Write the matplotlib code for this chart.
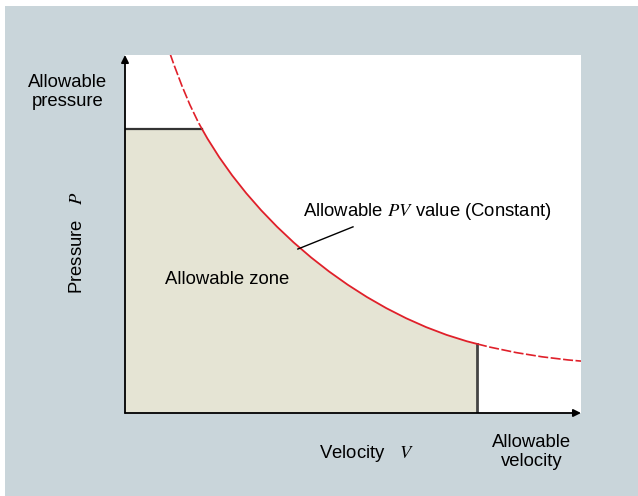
import matplotlib
matplotlib.use("Agg")
import matplotlib.pyplot as plt
from matplotlib.patches import Rectangle, PathPatch
from matplotlib.path import Path

plt.rcParams["font.family"] = ["Liberation Sans", "DejaVu Sans"]
plt.rcParams["mathtext.fontset"] = "stix"

# PV curve as three cubic Bezier pieces (end, ctrl, ctrl, end ...), read off the
# picture; axes run 0..10 on both V and P
curve_v = [0.99, 1.22, 1.45, 1.69, 2.93, 5.34, 7.72, 8.48, 9.24, 10.0]
curve_p = [10.03, 9.19, 8.47, 7.93, 5.09, 2.68, 1.93, 1.68, 1.53, 1.45]
allow_p = 7.93          # allowable pressure
allow_v = 7.72          # allowable velocity
label_pt = (3.79, 4.58)  # where the leader line meets the curve
label_end = (5.0, 5.2)

BG = "#c9d5da"
FILL = "#e5e4d4"
RED = "#e0202a"

W, H = 638, 496
fig = plt.figure(figsize=(W / 100, H / 100), dpi=100, facecolor="white")
fig.patches.append(Rectangle((5 / W, 0), 1, 1 - 6 / H, transform=fig.transFigure,
                             facecolor=BG, edgecolor="none", zorder=-10))

ax = fig.add_axes([125 / W, 1 - 413 / H, 456 / W, 358 / H])
ax.set_facecolor("white")
ax.set_xlim(0, 10)
ax.set_ylim(0, 10)
for s in ax.spines.values():
    s.set_visible(False)
ax.set_xticks([])
ax.set_yticks([])

pts = list(zip(curve_v, curve_p))
C4 = [Path.CURVE4] * 3


def bezier(i, **kw):
    path = Path(pts[i:i + 4], [Path.MOVETO] + C4)
    ax.add_patch(PathPatch(path, facecolor="none", **kw))


# allowable zone: axes corner, pressure limit, curve, velocity limit
zone = Path([(0, 0), (0, allow_p)] + pts[3:7] + [(allow_v, 0), (0, 0)],
            [Path.MOVETO, Path.LINETO, Path.LINETO] + C4 + [Path.LINETO, Path.CLOSEPOLY])
ax.add_patch(PathPatch(zone, facecolor=FILL, edgecolor="none", zorder=1))
ax.plot([0, curve_v[3]], [allow_p, allow_p], color="#333333", lw=1.6, zorder=2)
ax.plot([allow_v, allow_v], [0, curve_p[6]], color="#444444", lw=2.0, zorder=2)

# PV curve: solid along the zone, dashed outside it
dash = (0, (6, 1.5))
bezier(0, edgecolor=RED, lw=1.2, ls=dash, zorder=3)
bezier(3, edgecolor=RED, lw=1.3, zorder=3)
bezier(6, edgecolor=RED, lw=1.2, ls=dash, zorder=3)

# axes with arrows
arrow = dict(arrowstyle="-|>", color="black", lw=1.3, mutation_scale=11,
             shrinkA=0, shrinkB=0)
ax.annotate("", xy=(0, 1.0), xytext=(0, 0), xycoords="axes fraction",
            arrowprops=arrow, annotation_clip=False, zorder=5)
ax.annotate("", xy=(1.0, 0), xytext=(0, 0), xycoords="axes fraction",
            arrowprops=arrow, annotation_clip=False, zorder=5)

# leader line for the curve label
ax.plot([label_pt[0], label_end[0]], [label_pt[1], label_end[1]],
        color="black", lw=1.0, zorder=4)

fs = 13.3
ax.text(2.24, 3.74, "Allowable zone", fontsize=fs, ha="center", va="center")
ax.text(3.9, 5.63, "Allowable $PV$ value (Constant)", fontsize=fs,
        ha="left", va="center")


def fig_text(x, y, s, **kw):
    fig.text(x / W, 1 - y / H, s, fontsize=fs, ha="center", va="center",
             linespacing=1.2, **kw)


fig_text(68, 92, "Allowable\npressure")
fig_text(78, 243, "Pressure   $P$", rotation=90)
fig_text(366, 453, "Velocity   $V$")
fig_text(532, 452, "Allowable\nvelocity")

fig.savefig("out.png", dpi=100, facecolor="white")
